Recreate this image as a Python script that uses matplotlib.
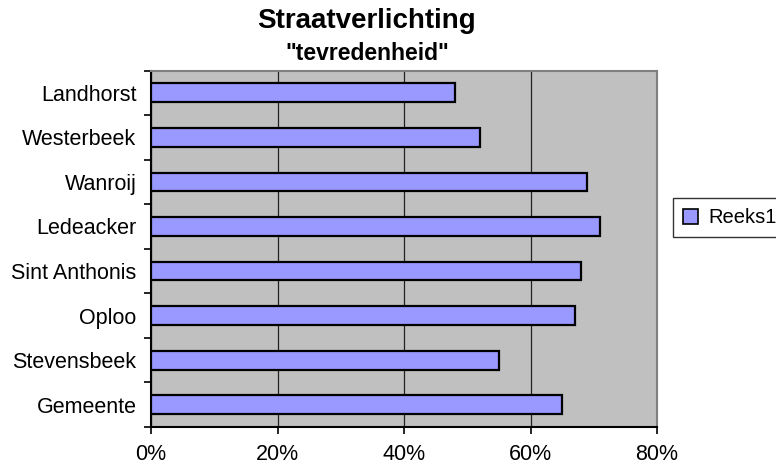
import numpy as np
import matplotlib
matplotlib.use("Agg")
import matplotlib.pyplot as plt
from matplotlib.ticker import PercentFormatter

plt.rcParams['font.family'] = ['Liberation Sans', 'DejaVu Sans']

# data, top to bottom as in the chart
plaatsen = ["Landhorst", "Westerbeek", "Wanroij", "Ledeacker",
            "Sint Anthonis", "Oploo", "Stevensbeek", "Gemeente"]
tevredenheid = [48, 52, 69, 71, 68, 67, 55, 65]
x_ticks = [0, 20, 40, 60, 80]

fig = plt.figure(figsize=(7.76, 4.68), dpi=100)
ax = fig.add_axes([151/776, 1 - 427/468, 506/776, 356.5/468])
ax.set_facecolor("#C0C0C0")

y = np.arange(len(plaatsen))[::-1]
ax.barh(y, tevredenheid, height=0.42, color="#9999FF", edgecolor="black",
        linewidth=1.6, label="Reeks1", zorder=3)

ax.set_xlim(0, 80)
ax.set_ylim(-0.5, len(plaatsen) - 0.5)
ax.set_xticks(x_ticks)
ax.xaxis.set_major_formatter(PercentFormatter(decimals=0))
ax.grid(axis="x", color="#222222", linewidth=0.9, zorder=1)

ax.set_yticks(y)
ax.set_yticklabels(plaatsen)
ax.set_yticks(np.arange(len(plaatsen) + 1) - 0.5, minor=True)
ax.tick_params(axis="y", which="major", length=0, pad=10.5, labelsize=15.5)
ax.tick_params(axis="y", which="minor", length=5, width=1.2, color="black")
ax.tick_params(axis="x", length=5, width=1.2, pad=7, labelsize=15.5)

for side in ["top", "right"]:
    ax.spines[side].set_color("#808080")
    ax.spines[side].set_linewidth(1.5)
for side in ["left", "bottom"]:
    ax.spines[side].set_color("black")
    ax.spines[side].set_linewidth(1.5)

fig.text(366/776, 1 - 28/468, "Straatverlichting", ha="center",
         va="baseline", fontsize=20, fontweight="bold")
fig.text(367/776, 1 - 60/468, '"tevredenheid"', ha="center",
         va="baseline", fontsize=16.5, fontweight="bold")

leg = ax.legend(loc="upper left", bbox_to_anchor=(672.7/776, 1 - 198.3/468),
                bbox_transform=fig.transFigure, fontsize=14.5, frameon=True,
                fancybox=False, edgecolor="black", handlelength=0.75,
                handleheight=0.75, handletextpad=0.5, borderpad=0.5,
                borderaxespad=0)
leg.get_frame().set_linewidth(1.0)
for h in leg.legend_handles:
    h.set_linewidth(1.2)

fig.savefig("out.png", dpi=100)
